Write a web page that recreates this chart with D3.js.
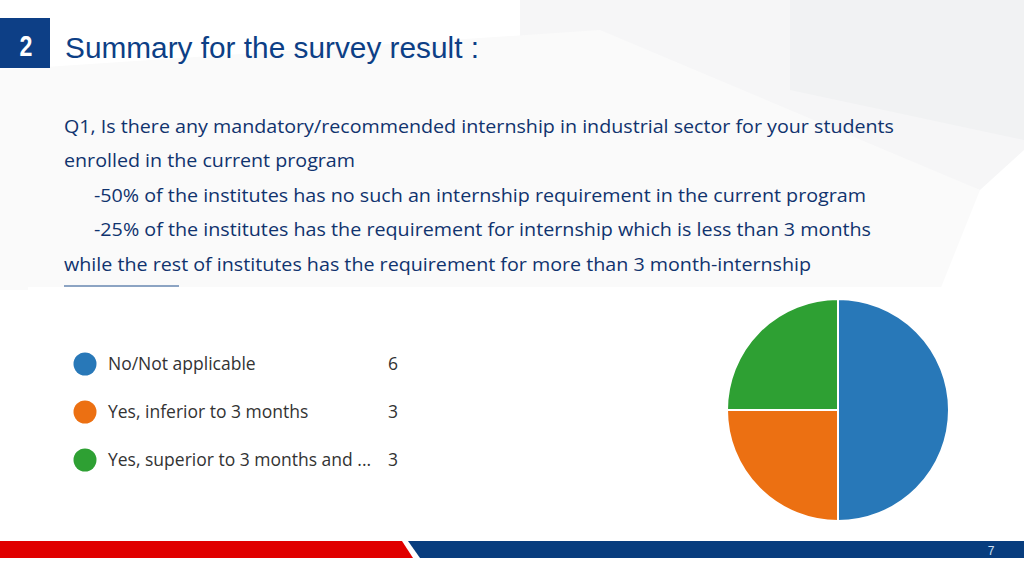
<!DOCTYPE html>
<html><head><meta charset="utf-8">
<script src="https://cdn.jsdelivr.net/npm/d3@7"></script>
<style>body{margin:0;background:#fff}</style></head>
<body><svg id="c" width="1024" height="576"></svg>
<script>
const categories=["No/Not applicable","Yes, inferior to 3 months","Yes, superior to 3 months and ..."];
const values=[6,3,3];
const colors=["#2878b8","#ec7012","#2ea033"];
const textLines=[
 {t:"Q1, Is there any mandatory/recommended internship in industrial sector for your students",x:64,w:830},
 {t:"enrolled in the current program",x:64,w:291},
 {t:"-50% of the institutes has no such an internship requirement in the current program",x:94,w:772},
 {t:"-25% of the institutes has the requirement for internship which is less than 3 months",x:94,w:777},
 {t:"while the rest of institutes has the requirement for more than 3 month-internship",x:64,w:747}];
const svg=d3.select("#c");
svg.append("rect").attr("width",1024).attr("height",576).attr("fill","#fff");
svg.append("path").attr("d","M520,0 L1024,0 L1024,150 L980,190 L520,40 Z").attr("fill","#f6f6f7");
svg.append("path").attr("d","M790,0 L1024,0 L1024,140 L790,90 Z").attr("fill","#f1f2f3");
svg.append("path").attr("d","M0,70 L600,30 L980,190 L940,290 L0,290 Z").attr("fill","#fafafa");
svg.append("rect").attr("x",0).attr("y",18).attr("width",50).attr("height",50).attr("fill","#0d3f86");
svg.append("text").attr("x",26).attr("y",56).attr("text-anchor","middle").attr("fill","#fff")
 .attr("font-family","Liberation Sans Narrow, Liberation Sans").attr("font-weight","bold").attr("font-size",29)
 .attr("transform","translate(26,0) scale(0.8,1) translate(-26,0)").text("2");
svg.append("text").attr("x",65).attr("y",58).attr("fill","#0d3f86").attr("font-family","Liberation Sans, Arial").attr("font-size",29)
 .attr("textLength",414).attr("lengthAdjust","spacingAndGlyphs").text("Summary for the survey result :");
const ys=[133,167,202,236,271];
textLines.forEach((d,i)=>svg.append("text").attr("x",d.x).attr("y",ys[i]).attr("fill","#10336e")
 .attr("font-family","Open Sans, Noto Sans").attr("font-size",19).attr("textLength",d.w).attr("lengthAdjust","spacingAndGlyphs").text(d.t));
svg.append("line").attr("x1",64).attr("x2",179).attr("y1",286).attr("y2",286).attr("stroke","#1f4e8c").attr("stroke-width",1);
svg.append("rect").attr("x",28).attr("y",287).attr("width",922).attr("height",245).attr("fill","#fff");
const ly=d3.scalePoint().domain(categories).range([364,460]);
categories.forEach((c,i)=>{
 svg.append("circle").attr("cx",85).attr("cy",ly(c)).attr("r",11.5).attr("fill",colors[i]);
 svg.append("text").attr("x",108).attr("y",ly(c)+6).attr("fill","#333").attr("font-family","Open Sans, Noto Sans").attr("font-size",17.5).text(c);
 svg.append("text").attr("x",388).attr("y",ly(c)+6).attr("fill","#333").attr("font-family","Open Sans, Noto Sans").attr("font-size",17.5).text(values[i]);
});
const pie=d3.pie().sort(null)(values);
const arc=d3.arc().innerRadius(0).outerRadius(111);
svg.append("g").attr("transform","translate(838,410)").selectAll("path").data(pie).join("path")
 .attr("d",arc).attr("fill",(d,i)=>colors[i]).attr("stroke","#fff").attr("stroke-width",2);
svg.append("path").attr("d","M0,541 L402,541 L413,558 L0,558 Z").attr("fill","#e00000");
svg.append("path").attr("d","M408,541 L1024,541 L1024,558 L420,558 Z").attr("fill","#083d7e");
svg.append("text").attr("x",991).attr("y",555).attr("text-anchor","middle").attr("fill","#cfe0f5").attr("font-family","Liberation Sans").attr("font-size",12).text("7");
</script></body></html>
